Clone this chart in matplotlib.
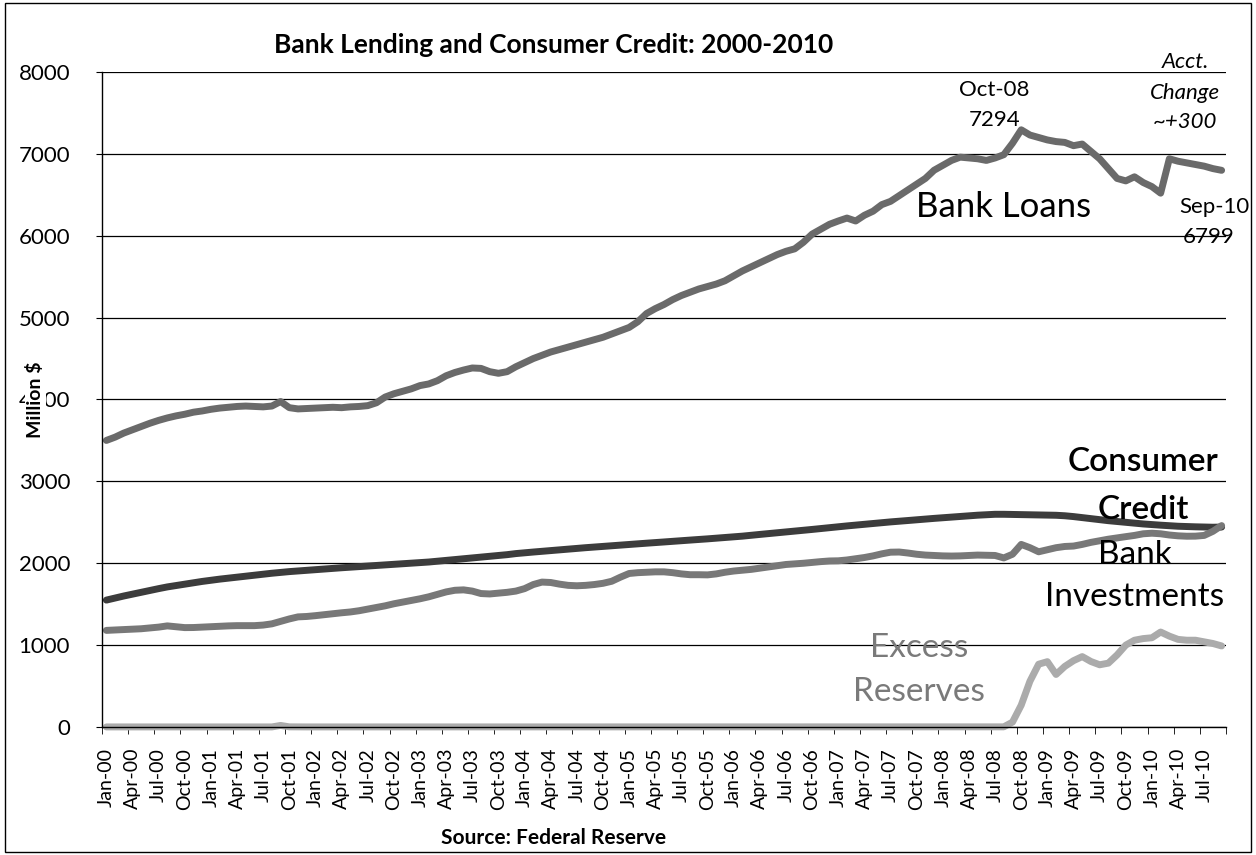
import numpy as np
import pandas as pd
import matplotlib
matplotlib.use("Agg")
import matplotlib.pyplot as plt
from matplotlib.patches import Rectangle

plt.rcParams['font.family'] = ['Lato', 'DejaVu Sans']

## donnees, mensuelles Jan-00 -> Sep-10
months = pd.date_range("2000-01-01", "2010-09-01", freq="MS")
month_labels = [m.strftime("%b-%y") for m in months]

bank_loans = [
    3500, 3540, 3590, 3630, 3670, 3710, 3745, 3775, 3800, 3820, 3845, 3860,
    3880, 3895, 3905, 3915, 3920, 3915, 3910, 3920, 3975, 3900, 3885, 3890,
    3895, 3900, 3905, 3900, 3910, 3915, 3925, 3960, 4030, 4070, 4100, 4130,
    4170, 4190, 4230, 4290, 4330, 4360, 4385, 4380, 4340, 4320, 4340, 4400,
    4450, 4500, 4540, 4580, 4610, 4640, 4670, 4700, 4730, 4760, 4800, 4840,
    4880, 4950, 5050, 5110, 5160, 5220, 5270, 5310, 5350, 5380, 5410, 5450,
    5510, 5570, 5620, 5670, 5720, 5770, 5810, 5840, 5920, 6020, 6080, 6140,
    6180, 6216, 6180, 6250, 6300, 6380, 6420, 6490, 6560, 6630, 6700, 6800,
    6860, 6920, 6960, 6950, 6940, 6920, 6950, 6990, 7130, 7294, 7230, 7200,
    7170, 7150, 7140, 7100, 7120, 7030, 6940, 6820, 6700, 6670, 6720, 6650,
    6600, 6520, 6940, 6910, 6890, 6870, 6850, 6820, 6799,
]

consumer_credit = [
    1550, 1575, 1600, 1622, 1645, 1668, 1690, 1711, 1728, 1745, 1762, 1778,
    1792, 1806, 1818, 1830, 1842, 1855, 1866, 1878, 1888, 1898, 1906, 1914,
    1922, 1930, 1938, 1945, 1952, 1960, 1967, 1974, 1981, 1988, 1995, 2002,
    2008, 2015, 2025, 2035, 2045, 2055, 2065, 2075, 2085, 2095, 2105, 2118,
    2128, 2137, 2146, 2155, 2164, 2173, 2182, 2190, 2198, 2206, 2214, 2222,
    2230, 2238, 2245, 2252, 2260, 2268, 2275, 2283, 2290, 2298, 2306, 2314,
    2322, 2331, 2342, 2352, 2362, 2372, 2382, 2392, 2402, 2413, 2424, 2435,
    2446, 2456, 2466, 2476, 2486, 2496, 2505, 2513, 2522, 2531, 2540, 2548,
    2556, 2564, 2572, 2580, 2587, 2593, 2598, 2598, 2596, 2594, 2592, 2590,
    2588, 2586, 2580, 2570, 2558, 2545, 2532, 2520, 2510, 2500, 2490, 2480,
    2472, 2465, 2458, 2452, 2448, 2445, 2442, 2440, 2442,
]

bank_investments = [
    1180, 1185, 1190, 1195, 1200, 1210, 1220, 1235, 1225, 1214, 1215, 1220,
    1225, 1230, 1235, 1238, 1238, 1238, 1245, 1260, 1290, 1320, 1345, 1350,
    1360, 1372, 1385, 1395, 1405, 1420, 1440, 1460, 1480, 1505, 1525, 1545,
    1566, 1590, 1620, 1650, 1670, 1675, 1660, 1630, 1625, 1635, 1645, 1660,
    1690, 1740, 1770, 1765, 1745, 1730, 1725, 1730, 1740, 1755, 1780, 1830,
    1875, 1885, 1890, 1895, 1895, 1885, 1870, 1860, 1860, 1858, 1870, 1890,
    1905, 1915, 1925, 1940, 1955, 1970, 1985, 1992, 2000, 2010, 2020, 2028,
    2030, 2040, 2055, 2070, 2090, 2115, 2135, 2137, 2125, 2110, 2100, 2095,
    2090, 2088, 2090, 2095, 2100, 2098, 2095, 2065, 2110, 2230, 2190, 2140,
    2165, 2190, 2205, 2210, 2230, 2255, 2275, 2294, 2310, 2325, 2340, 2360,
    2367, 2360, 2345, 2335, 2330, 2331, 2340, 2390, 2460,
]

excess_reserves = [
    1, 1, 1, 1, 1, 1, 1, 1, 1, 1, 1, 1,
    1, 1, 1, 1, 1, 1, 1, 1, 19, 2, 1, 1,
    1, 1, 1, 1, 1, 1, 1, 1, 1, 1, 1, 1,
    1, 1, 1, 1, 1, 1, 1, 1, 1, 1, 1, 1,
    1, 1, 1, 1, 1, 1, 1, 1, 1, 1, 1, 1,
    1, 1, 1, 1, 1, 1, 1, 1, 1, 1, 1, 1,
    1, 1, 1, 1, 1, 1, 1, 1, 1, 1, 1, 1,
    1, 1, 1, 1, 1, 1, 1, 2, 1, 2, 2, 2,
    2, 2, 2, 2, 2, 2, 2, 2, 60, 267, 559, 767,
    798, 642, 740, 810, 860, 800, 760, 780, 880, 1000, 1060, 1080,
    1090, 1160, 1110, 1070, 1060, 1060, 1040, 1020, 990,
]

x = np.arange(len(months))

### figure
fig = plt.figure(figsize=(12.56, 8.55), dpi=100)
ax = fig.add_axes([0.0812, 0.1497, 0.8949, 0.7661])

ax.plot(x, bank_loans, color="#6a6a6a", lw=5, solid_capstyle="round")
ax.plot(x, consumer_credit, color="#3c3c3c", lw=5, solid_capstyle="round")
ax.plot(x, bank_investments, color="#787878", lw=5, solid_capstyle="round")
ax.plot(x, excess_reserves, color="#ababab", lw=5, solid_capstyle="round", clip_on=False)

ax.set_xlim(-0.5, len(months) - 0.5)
ax.set_ylim(0, 8000)
ax.set_yticks(np.arange(0, 8001, 1000))
ax.yaxis.grid(True, color="black", lw=0.9)
ax.set_axisbelow(True)

for s in ["top", "right"]:
    ax.spines[s].set_visible(False)
ax.spines["left"].set_linewidth(1.0)
ax.spines["bottom"].set_linewidth(1.0)

ax.set_xticks(x[::3])
ax.set_xticklabels(month_labels[::3], rotation=90, fontsize=14)
ax.set_xticks(np.arange(-0.5, len(months), 3), minor=True)
ax.tick_params(axis="x", which="major", length=0, pad=15)
ax.tick_params(axis="x", which="minor", length=5, direction="out")
ax.tick_params(axis="y", length=4, pad=19, labelsize=16)

# titre et textes
fig.text(0.441, 0.947, "Bank Lending and Consumer Credit: 2000-2010",
         ha="center", va="center", fontsize=19, fontweight="bold")
fig.text(0.441, 0.020, "Source: Federal Reserve", ha="center", va="center",
         fontsize=15, fontweight="bold")
fig.text(0.028, 0.532, "Million $", rotation=90, ha="center", va="center",
         fontsize=14, fontweight="bold",
         bbox=dict(facecolor="white", edgecolor="none", pad=1))


def lignes(xc, ys, textes, **kw):
    """place chaque ligne d'une etiquette separement"""
    for yv, t in zip(ys, textes):
        ax.text(xc, yv, t, ha="center", va="center", **kw)


lignes(101.9, [7780, 7414], ["Oct-08", "7294"], fontsize=16)
lignes(123.8, [8122, 7744, 7390], ["Acct.", "Change", "~+300"], fontsize=16, style="italic")
ax.text(127.2, 6351, "Sep-10", ha="center", va="center", fontsize=16)
ax.text(126.5, 5985, "6799", ha="center", va="center", fontsize=16)
ax.text(103, 6351, "Bank Loans", ha="center", va="center", fontsize=25)
lignes(119, [3237, 2650], ["Consumer", "Credit"], fontsize=24, fontweight="semibold")
lignes(118, [2101, 1588], ["Bank", "Investments"], fontsize=24)
lignes(93.3, [965, 427], ["Excess", "Reserves"], fontsize=24, color="#7a7a7a")

# cadre exterieur
fig.patches.append(Rectangle((0.004, 0.004), 0.992, 0.992, transform=fig.transFigure,
                             fill=False, edgecolor="black", lw=1.0))

fig.savefig("out.png", dpi=100)
